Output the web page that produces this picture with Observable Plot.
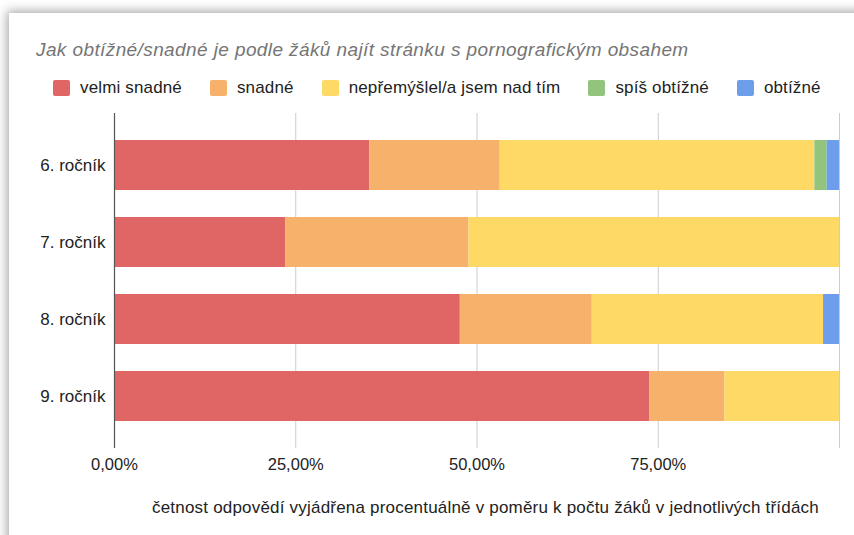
<!DOCTYPE html>
<html>
<head>
<meta charset="utf-8">
<script src="https://cdn.jsdelivr.net/npm/d3@7"></script>
<script src="https://cdn.jsdelivr.net/npm/@observablehq/plot@0.6"></script>
<style>
  html, body { margin: 0; padding: 0; width: 854px; height: 535px; overflow: hidden; background: #fff; font-family: "Liberation Sans", Arial, sans-serif; }
  #card { position: absolute; left: 9px; top: 13px; width: 900px; height: 600px; background: #fff; box-shadow: 0 0 10px 2px rgba(0,0,0,0.35); }
  #title { position: absolute; left: 36px; top: 40px; font-size: 19px; line-height: 19px; letter-spacing: 0.4px; font-style: italic; color: #757575; white-space: nowrap; }
  #legend { position: absolute; left: 53px; top: 78px; display: flex; align-items: center; font-size: 17px; letter-spacing: 0.15px; color: #222; white-space: nowrap; }
  .item { display: flex; align-items: center; margin-right: 28px; }
  .sw { width: 17px; height: 16px; border-radius: 2px; margin-right: 10px; }
  #chart { position: absolute; left: 0; top: 100px; }
  #caption { position: absolute; left: 152px; top: 499px; font-size: 17px; line-height: 17px; letter-spacing: 0.2px; color: #222; white-space: nowrap; }
</style>
</head>
<body>
<div id="card"></div>
<div id="title">Jak obtížné/snadné je podle žáků najít stránku s pornografickým obsahem</div>
<div id="legend"></div>
<div id="chart"></div>
<div id="caption">četnost odpovědí vyjádřena procentuálně v poměru k počtu žáků v jednotlivých třídách</div>
<script>
const grades = ["6. ročník", "7. ročník", "8. ročník", "9. ročník"];
const categories = ["velmi snadné", "snadné", "nepřemýšlel/a jsem nad tím", "spíš obtížné", "obtížné"];
const colors = ["#e06666", "#f6b26b", "#ffd966", "#93c47d", "#6d9eeb"];
const velmiSnadne = [35.2, 23.6, 47.7, 73.8];
const snadne = [18.0, 25.3, 18.2, 10.4];
const nepremyslel = [43.4, 51.1, 31.9, 15.8];
const spisObtizne = [1.7, 0, 0, 0];
const obtizne = [1.7, 0, 2.2, 0];
const xTicks = [0, 25, 50, 75];
const gridTicks = [25, 50, 75, 100];

const series = [velmiSnadne, snadne, nepremyslel, spisObtizne, obtizne];
const data = [];
grades.forEach((g, i) => {
  categories.forEach((c, j) => {
    data.push({grade: g, category: c, value: series[j][i]});
  });
});

// legend
const legend = document.getElementById("legend");
categories.forEach((c, j) => {
  const item = document.createElement("div");
  item.className = "item";
  const sw = document.createElement("div");
  sw.className = "sw";
  sw.style.background = colors[j];
  const t = document.createElement("span");
  t.textContent = c;
  item.appendChild(sw);
  item.appendChild(t);
  legend.appendChild(item);
});

const fmt = d => d.toFixed(2).replace(".", ",") + "%";

const chart = Plot.plot({
  width: 854,
  height: 385,
  marginTop: 13,
  marginBottom: 37,
  marginLeft: 114,
  marginRight: 15,
  style: {fontFamily: "'Liberation Sans', Arial, sans-serif", background: "transparent", color: "#222"},
  x: {domain: [0, 100]},
  y: {domain: grades, padding: 0.35},
  color: {domain: categories, range: colors},
  marks: [
    Plot.gridX(gridTicks, {stroke: "#cccccc", strokeOpacity: 1, strokeWidth: 1}),
    Plot.barX(data, {x: "value", y: "grade", fill: "category", order: categories}),
    Plot.ruleX([0], {stroke: "#555", strokeWidth: 1.2}),
    Plot.axisX(xTicks, {tickSize: 0, tickPadding: 10, tickFormat: fmt, fontSize: 16.5, label: null, fill: "#222"}),
    Plot.axisY({tickSize: 0, tickPadding: 9, fontSize: 17, label: null, fill: "#222"})
  ]
});
document.getElementById("chart").appendChild(chart);
</script>
</body>
</html>
